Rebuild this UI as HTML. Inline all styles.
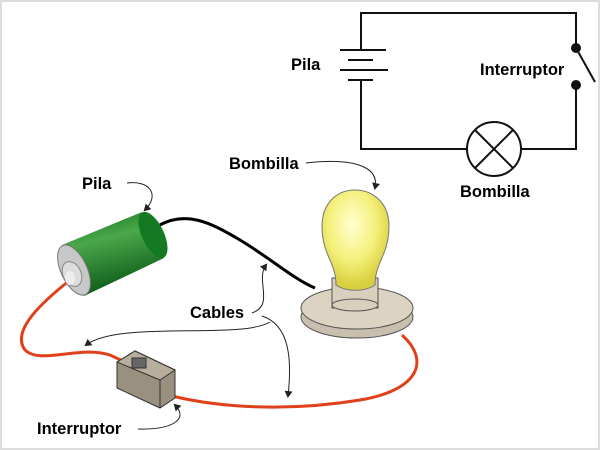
<!DOCTYPE html>
<html><head><style>
body{margin:0;background:#fff;}
svg{display:block;font-family:"Liberation Sans","DejaVu Sans",sans-serif;font-weight:bold;font-size:16.5px;}
</style></head><body>
<svg width="600" height="450" viewBox="0 0 600 450">
<defs>
<marker id="a" markerWidth="8" markerHeight="8" refX="5" refY="4" orient="auto"><path d="M0,0 L7,4 L0,8 z" fill="#222"/></marker>
<linearGradient id="g" x1="0" y1="0" x2="0.3" y2="1"><stop offset="0" stop-color="#0e6b1e"/><stop offset="0.4" stop-color="#4aa84a"/><stop offset="1" stop-color="#0d5a18"/></linearGradient>
<radialGradient id="b" cx="0.45" cy="0.35" r="0.6"><stop offset="0" stop-color="#ffffd0"/><stop offset="0.6" stop-color="#f4f07a"/><stop offset="1" stop-color="#d8d040"/></radialGradient>
</defs>
<rect x="0" y="0" width="600" height="450" fill="#fff"/>
<rect x="0.5" y="0.5" width="599" height="449" fill="none" stroke="#ddd" stroke-width="3"/>
<g stroke="#111" stroke-width="2" fill="none">
<path d="M361 50 V13 H576 V48"/>
<path d="M576 85 V149 H521"/>
<path d="M467 149 H361 V80"/>
<line x1="340" y1="50" x2="386" y2="50"/>
<line x1="348" y1="60" x2="373" y2="60"/>
<line x1="340" y1="70" x2="388" y2="70"/>
<line x1="348" y1="80" x2="373" y2="80"/>
<line x1="576" y1="48" x2="595" y2="82"/>
<circle cx="494" cy="149" r="27" fill="#fff"/>
<line x1="475" y1="130" x2="513" y2="168"/>
<line x1="513" y1="130" x2="475" y2="168"/>
</g>
<circle cx="576" cy="48" r="5" fill="#111"/>
<circle cx="576" cy="85" r="5" fill="#111"/>
<text x="291" y="70">Pila</text>
<text x="480" y="75">Interruptor</text>
<text x="460" y="197">Bombilla</text>
<path d="M158 226 C185 210 210 222 240 240 C270 258 295 280 315 288" stroke="#000" stroke-width="3" fill="none"/>
<path d="M70 280 C45 300 10 330 25 350 C40 365 80 345 110 355 L125 362" stroke="#e0401a" stroke-width="3" fill="none"/>
<path d="M172 396 C230 410 300 410 360 400 C420 390 430 360 402 335" stroke="#e0401a" stroke-width="3" fill="none"/>
<g>
<path d="M62 245 L142 212 L164 258 L84 296 Z" fill="url(#g)"/>
<ellipse cx="153" cy="235" rx="11" ry="25" transform="rotate(-25 153 235)" fill="#137a22"/>
<ellipse cx="74" cy="270" rx="13" ry="27" transform="rotate(-25 74 270)" fill="#c8c8c8" stroke="#777"/>
<ellipse cx="72" cy="274" rx="9" ry="13" transform="rotate(-25 72 274)" fill="#ddd" stroke="#888"/>
<ellipse cx="70" cy="278" rx="5" ry="7" fill="#eee"/>
</g>
<ellipse cx="357" cy="317" rx="56" ry="21" fill="#c9bfae" stroke="#555"/>
<ellipse cx="357" cy="308" rx="56" ry="21" fill="#dcd3c2" stroke="#555"/>
<rect x="332" y="278" width="46" height="30" fill="#d8cfbe" stroke="#555"/>
<ellipse cx="355" cy="305" rx="23" ry="6" fill="#d8cfbe" stroke="#555"/>
<path d="M336 285 C336 262 322 255 322 226 C322 203 337 190 355 190 C373 190 389 203 389 226 C389 255 375 262 375 285 C365 292 346 292 336 285 Z" fill="url(#b)" stroke="#777"/>
<path d="M117 362 L135 351 L175 370 L175 398 L160 408 L117 388 Z" fill="#9a9080" stroke="#333"/>
<path d="M117 362 L135 351 L175 370 L160 380 Z" fill="#b8ae9c" stroke="#333"/>
<line x1="160" y1="380" x2="160" y2="408" stroke="#333"/>
<rect x="132" y="358" width="14" height="10" fill="#666" stroke="#333"/>
<text x="82" y="189">Pila</text>
<text x="229" y="169">Bombilla</text>
<text x="190" y="318">Cables</text>
<text x="37" y="434">Interruptor</text>
<g stroke="#222" stroke-width="1" fill="none" marker-end="url(#a)">
<path d="M127 183 C150 180 160 195 145 210"/>
<path d="M306 163 C350 158 380 165 375 188"/>
<path d="M252 313 C275 305 255 280 266 265"/>
<path d="M270 322 C240 340 120 320 86 345"/>
<path d="M262 316 C290 325 292 360 288 396"/>
<path d="M138 429 C170 430 190 420 175 405"/>
</g>
</svg>
</body></html>
